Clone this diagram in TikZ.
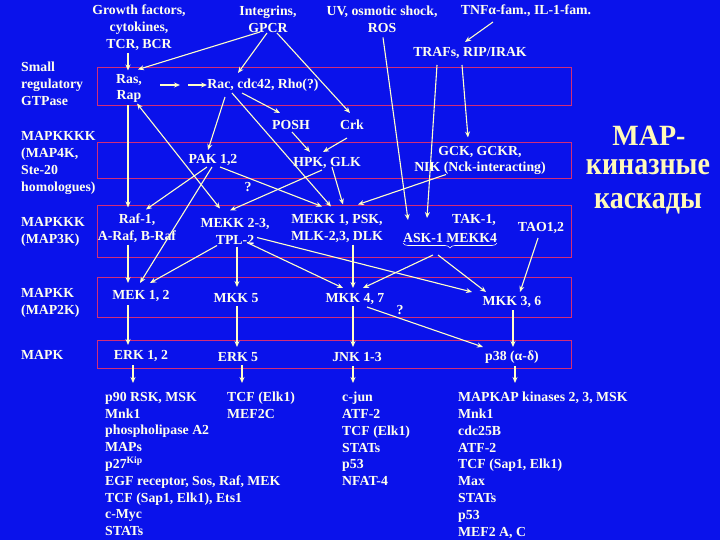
\documentclass[tikz,border=0pt]{standalone}
\usepackage{fontspec}
\setmainfont{Liberation Serif}
\usetikzlibrary{arrows.meta,decorations.pathreplacing,calc}
\definecolor{bgblue}{RGB}{10,18,235}
\definecolor{boxc}{RGB}{210,45,120}
\definecolor{txtc}{RGB}{255,255,238}
\definecolor{arrc}{RGB}{255,255,200}
\definecolor{ttlc}{RGB}{255,250,185}
\begin{document}
\begin{tikzpicture}[x=1pt,y=-1pt,
  every node/.style={inner sep=0pt,text=txtc,font=\bfseries\fontsize{13.8}{16.8}\selectfont},
  arr/.style={draw=arrc,line width=1.1pt,-{Stealth[length=6pt,width=5pt]}},
  darr/.style={draw=arrc,line width=1.1pt,{Stealth[length=6pt,width=5pt]}-{Stealth[length=6pt,width=5pt]}},
  layer/.style={draw=boxc,line width=0.8pt},
  lab/.style={anchor=west,align=left},
  lst/.style={anchor=north west,align=left},
  mc/.style={align=center},
  ttl/.style={anchor=base,text=ttlc,font=\bfseries\fontsize{28}{32}\selectfont}]
\fill[bgblue] (0,0) rectangle (720,540);
\useasboundingbox (0,0) rectangle (720,540);
% layers
\draw[layer] (97,67) rectangle (571,105);
\draw[layer] (97,142) rectangle (571,178);
\draw[layer] (97,205) rectangle (571,257);
\draw[layer] (97,277) rectangle (571,317);
\draw[layer] (97,340) rectangle (571,368);
% left labels
\node[lab] (lab1) at (21,84) {Small\\regulatory\\GTPase};
\node[lab] (lab2) at (21,163) {MAPKKKK\\(MAP4K,\\Ste-20\\homologues)};
\node[lab] (lab3) at (21,232) {MAPKKK\\(MAP3K)};
\node[lab] (lab4) at (21,303) {MAPKK\\(MAP2K)};
\node[lab] (lab5) at (21,355) {MAPK};
% top
\node[mc] (gf) at (139,28) {Growth factors,\\cytokines,\\TCR, BCR};
\node[mc] (integ) at (268,19) {Integrins,\\GPCR};
\node[mc] (uv) at (382,19.5) {UV, osmotic shock,\\ROS};
\node (tnf) at (526,11) {TNFα-fam., IL-1-fam.};
\node (traf) at (470,53) {TRAFs, RIP/IRAK};
% GTPase
\node[mc] (ras) at (129,88.5) {Ras,\\Rap};
\node (rac) at (263,85) {Rac, cdc42, Rho(?)};
\node (posh) at (291,125) {POSH};
\node (crk) at (352,125) {Crk};
% MAP4K
\node (pak) at (213,160) {PAK 1,2};
\node (hpk) at (327,163) {HPK, GLK};
\node[mc] (gck) at (480,160.5) {GCK, GCKR,\\NIK (Nck-interacting)};
\node (q1) at (248,187) {?};
% MAP3K
\node[mc] (raf) at (137,228.5) {Raf-1,\\A-Raf, B-Raf};
\node[mc] (mekk23) at (235,231.5) {MEKK 2-3,\\TPL-2};
\node[mc] (mekk1) at (337,228.5) {MEKK 1, PSK,\\MLK-2,3, DLK};
\node (tak) at (474,220) {TAK-1,};
\node (ask) at (450,238) {ASK-1 MEKK4};
\node (tao) at (541,228) {TAO1,2};
\draw[draw=txtc,line width=0.6pt,decorate,decoration={brace,mirror,amplitude=5pt}] (403,243) -- (497,243);
% MAP2K
\node (mek) at (141,296) {MEK 1, 2};
\node (mkk5) at (236,298) {MKK 5};
\node (mkk47) at (355,299) {MKK 4, 7};
\node (mkk36) at (512,302) {MKK 3, 6};
\node (q2) at (400,310) {?};
% MAPK
\node (erk12) at (141,356) {ERK 1, 2};
\node (erk5) at (238,357) {ERK 5};
\node (jnk) at (357,357) {JNK 1-3};
\node (p38) at (512,357) {p38 (α-δ)};
% substrate lists
\node[lst] (l1) at (105,392) {p90 RSK, MSK\\Mnk1\\phospholipase A2\\MAPs\\p27\textsuperscript{Kip}\\EGF receptor, Sos, Raf, MEK\\TCF (Sap1, Elk1), Ets1\\c-Myc\\STATs};
\node[lst] (l2) at (227,392) {TCF (Elk1)\\MEF2C};
\node[lst] (l3) at (342,392) {c-jun\\ATF-2\\TCF (Elk1)\\STATs\\p53\\NFAT-4};
\node[lst] (l4) at (458,392) {MAPKAP kinases 2, 3, MSK\\Mnk1\\cdc25B\\ATF-2\\TCF (Sap1, Elk1)\\Max\\STATs\\p53\\MEF2 A, C};
% title
\node[ttl] (t1) at (649,146) {\scalebox{1}[1.05]{MAP-}};
\node[ttl] (t2) at (648,175) {\scalebox{1}[1.15]{киназные}};
\node[ttl] (t3) at (648,209) {\scalebox{1}[1.15]{каскады}};
% connectors
\draw[arr] ($(gf)+(-11,25)$) -- ($(ras)+(-1,-18)$);
\draw[arr] ($(integ)+(-8,13)$) -- ($(ras)+(9,-19)$);
\draw[arr] ($(integ)+(-1,14)$) -- ($(rac)+(-25,-12)$);
\draw[arr] ($(integ)+(9,14)$) -- ($(crk)+(-2,-12)$);
\draw[arr] ($(ras)+(31,-3.5)$) -- ($(ras)+(51,-3.5)$);
\draw[arr] ($(ras)+(59,-3.5)$) -- ($(rac)+(-56,0)$);
\draw[arr] ($(rac)+(-21,8)$) -- ($(posh)+(-11,-12)$);
\draw[arr] ($(rac)+(-38,12)$) -- ($(pak)+(-5,-10)$);
\draw[arr] ($(rac)+(-31,8)$) -- ($(mekk1)+(-6,-22)$);
\draw[darr] ($(ras)+(8,15)$) -- ($(mekk23)+(-15,-23)$);
\draw[arr] ($(ras)+(-1,17)$) -- ($(raf)+(-9,-21)$);
\draw[arr] ($(posh)+(1,7)$) -- ($(hpk)+(-17,-11)$);
\draw[arr] ($(crk)+(-5,13)$) -- ($(hpk)+(-4,-11)$);
\draw[arr] ($(uv)+(1,18)$) -- ($(ask)+(-42,-18)$);
\draw[arr] ($(traf)+(-33,12)$) -- ($(ask)+(-23,-20)$);
\draw[arr] ($(traf)+(-8,12)$) -- ($(gck)+(-12,-23)$);
\draw[arr] ($(tnf)+(-33,11)$) -- ($(traf)+(-5,-11)$);
\draw[arr] ($(pak)+(-6,7)$) -- ($(raf)+(9,-19)$);
\draw[arr] ($(pak)+(-1,7)$) -- ($(mek)+(-1,-13)$);
\draw[arr] ($(pak)+(7,7)$) -- ($(mekk1)+(-15,-22)$);
\draw[arr] ($(hpk)+(-5,7)$) -- ($(mekk23)+(-5,-21)$);
\draw[arr] ($(hpk)+(5,4)$) -- ($(mekk1)+(6,-24)$);
\draw[arr] ($(gck)+(-34,14)$) -- ($(mekk1)+(21,-24)$);
\draw[arr] ($(raf)+(-9,16)$) -- ($(mek)+(-13,-13)$);
\draw[arr] ($(mekk23)+(-18,14)$) -- ($(mek)+(9,-13)$);
\draw[arr] ($(mekk23)+(2,15)$) -- ($(mkk5)+(1,-11)$);
\draw[arr] ($(mekk23)+(12,11)$) -- ($(mkk47)+(-12,-11)$);
\draw[arr] ($(mekk23)+(22,6)$) -- ($(mkk36)+(-40,-10)$);
\draw[arr] ($(mekk1)+(16,16)$) -- ($(mkk47)+(-2,-11)$);
\draw[arr] ($(ask)+(-17,17)$) -- ($(mkk47)+(8,-11)$);
\draw[arr] ($(ask)+(-12,17)$) -- ($(mkk36)+(-26,-10)$);
\draw[arr] ($(tao)+(-3,10)$) -- ($(mkk36)+(8,-10)$);
\draw[arr] ($(mek)+(-13,9)$) -- ($(erk12)+(-13,-11)$);
\draw[arr] ($(mkk5)+(1,8)$) -- ($(erk5)+(-1,-10)$);
\draw[arr] ($(mkk47)+(-2,7)$) -- ($(jnk)+(-4,-10)$);
\draw[arr] ($(mkk47)+(12,8)$) -- ($(p38)+(-29,-10)$);
\draw[arr] ($(mkk36)+(1,8)$) -- ($(p38)+(1,-10)$);
\draw[arr] ($(erk12)+(-8,9)$) -- ($(l1.north west)+(28,-9)$);
\draw[arr] ($(erk5)+(4,8)$) -- ($(l2.north west)+(15,-9)$);
\draw[arr] ($(jnk)+(-4,9)$) -- ($(l3.north west)+(11,-9)$);
\draw[arr] ($(p38)+(3,9)$) -- ($(l4.north west)+(57,-9)$);
\end{tikzpicture}
\end{document}
